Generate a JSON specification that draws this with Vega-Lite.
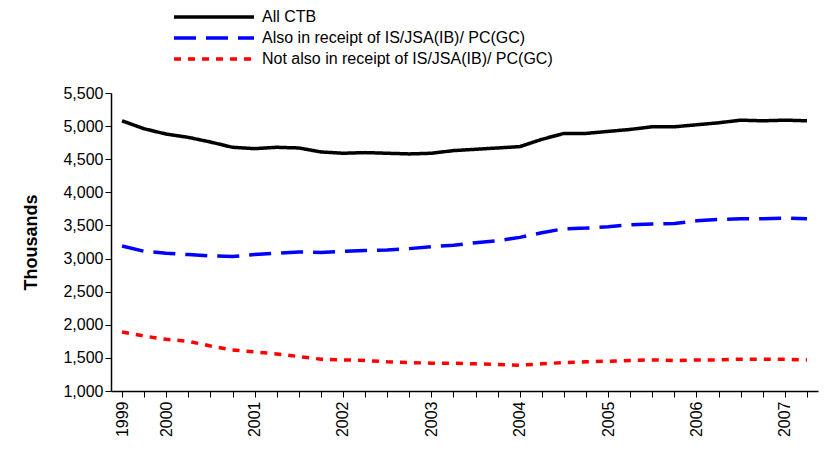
{
"$schema":"https://vega.github.io/schema/vega-lite/v6.json",
"width":707,"height":298,
"autosize":{"type":"none"},
"padding":{"left":111,"top":93,"right":19,"bottom":66},
"data":{"values":[
{"t":"1999","a":5080,"b":3190,"c":1890},
{"t":"1999.2","a":4960,"b":3110,"c":1830},
{"t":"2000","a":4880,"b":3080,"c":1780},
{"t":"2000.2","a":4830,"b":3060,"c":1750},
{"t":"2000.3","a":4760,"b":3040,"c":1680},
{"t":"2000.4","a":4680,"b":3030,"c":1620},
{"t":"2001","a":4660,"b":3060,"c":1590},
{"t":"2001.2","a":4680,"b":3080,"c":1560},
{"t":"2001.3","a":4670,"b":3100,"c":1520},
{"t":"2001.4","a":4610,"b":3090,"c":1480},
{"t":"2002","a":4590,"b":3110,"c":1470},
{"t":"2002.2","a":4600,"b":3120,"c":1460},
{"t":"2002.3","a":4590,"b":3130,"c":1440},
{"t":"2002.4","a":4580,"b":3150,"c":1430},
{"t":"2003","a":4590,"b":3180,"c":1420},
{"t":"2003.2","a":4630,"b":3200,"c":1420},
{"t":"2003.3","a":4650,"b":3240,"c":1410},
{"t":"2003.4","a":4670,"b":3270,"c":1400},
{"t":"2004","a":4690,"b":3320,"c":1390},
{"t":"2004.2","a":4800,"b":3390,"c":1410},
{"t":"2004.3","a":4890,"b":3450,"c":1430},
{"t":"2004.4","a":4890,"b":3460,"c":1440},
{"t":"2005","a":4920,"b":3480,"c":1450},
{"t":"2005.2","a":4950,"b":3510,"c":1460},
{"t":"2005.3","a":4990,"b":3520,"c":1470},
{"t":"2005.4","a":4990,"b":3530,"c":1460},
{"t":"2006","a":5020,"b":3570,"c":1470},
{"t":"2006.2","a":5050,"b":3590,"c":1470},
{"t":"2006.3","a":5090,"b":3600,"c":1480},
{"t":"2006.4","a":5080,"b":3600,"c":1480},
{"t":"2007","a":5090,"b":3610,"c":1480},
{"t":"2007.2","a":5080,"b":3600,"c":1470}
]},
"transform":[{"fold":["a","b","c"],"as":["key","value"]},
{"lookup":"key","from":{"data":{"values":[
{"key":"a","series":"All CTB"},
{"key":"b","series":"Also in receipt of IS/JSA(IB)/ PC(GC)"},
{"key":"c","series":"Not also in receipt of IS/JSA(IB)/ PC(GC)"}]},"key":"key","fields":["series"]}}],
"mark":{"type":"line","strokeWidth":3.5},
"encoding":{
"x":{"field":"t","type":"ordinal","sort":null,"scale":{"type":"point","padding":0.5},
"axis":{"title":null,"labelAngle":-90,"labelExpr":"indexof(datum.value,'.')<0 ? datum.value : ''","labelFont":"Liberation Sans","labelFontSize":16,"labelColor":"black","domainColor":"black","tickColor":"black","tickSize":6,"domainWidth":1.5,"labelPadding":4}},
"y":{"field":"value","type":"quantitative","scale":{"domain":[1000,5500],"nice":false},
"axis":{"title":"Thousands","titleFont":"Liberation Sans","titleFontSize":18,"titleFontWeight":"bold","titleColor":"black","titlePadding":22,"format":",.0f","values":[1000,1500,2000,2500,3000,3500,4000,4500,5000,5500],"grid":false,"labelFont":"Liberation Sans","labelFontSize":16,"labelColor":"black","domainColor":"black","tickColor":"black","domainWidth":1.5,"tickSize":6}},
"color":{"field":"series","type":"nominal","sort":null,"scale":{"range":["#000000","#0000FF","#FF0000"]},
"legend":{"title":null,"orient":"none","legendX":61,"legendY":-86,"symbolType":"stroke","symbolSize":6400,"clipHeight":20,"symbolStrokeWidth":3.5,"labelFont":"Liberation Sans","labelFontSize":16,"labelColor":"black","labelLimit":500,"rowPadding":1,"labelOffset":6}},
"strokeDash":{"field":"series","type":"nominal","sort":null,"scale":{"range":[[1,0],[22,10],[7,7]]},"legend":null}
},
"config":{"view":{"stroke":null}}
}
